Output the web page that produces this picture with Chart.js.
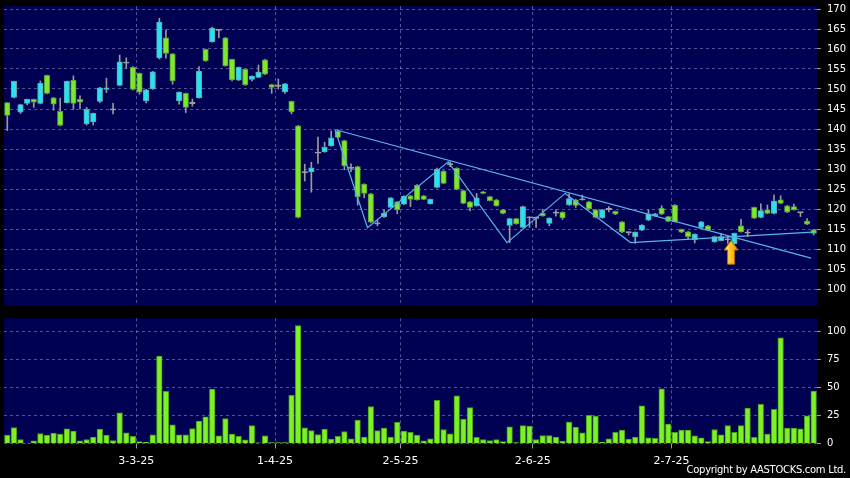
<!DOCTYPE html>
<html>
<head>
<meta charset="utf-8">
<script src="https://cdn.jsdelivr.net/npm/chart.js@4.4.1/dist/chart.umd.min.js"></script>
<style>
  html, body { margin: 0; padding: 0; background: #000; }
  #wrap { position: relative; width: 850px; height: 478px; background: #000; overflow: hidden; }
  #priceBox { position: absolute; left: 0; top: 0; width: 850px; height: 310px; }
  #volBox { position: absolute; left: 0; top: 310px; width: 850px; height: 168px; }
  #copy { position: absolute; right: 4px; top: 464px; font: 10px 'DejaVu Sans', sans-serif; color: #fff; letter-spacing: -0.3px; white-space: nowrap; }
</style>
</head>
<body>
<div id="wrap">
  <div id="priceBox"><canvas id="priceChart" width="850" height="310"></canvas></div>
  <div id="volBox"><canvas id="volChart" width="850" height="168"></canvas></div>
  <div id="copy">Copyright by AASTOCKS.com Ltd.</div>
</div>
<script>
// daily bars, 3 Feb 2025 .. 31 Jul 2025 (index 0..122)
const openP = [146.6,147.9,144.2,146.4,147.4,146.4,153.4,147.8,144.4,146.6,152.2,147.4,141.3,141.8,146.9,149.9,144.9,150.9,156.6,155.4,
  153.9,147.0,150.0,157.8,162.8,158.8,147.0,148.9,146.5,147.8,159.9,161.8,164.8,162.8,157.4,152.2,154.9,152.4,152.9,157.3,
  151.1,150.8,149.3,146.9,140.8,129.1,129.3,134.1,134.3,135.8,139.5,137.1,130.3,130.6,126.2,123.8,116.4,118.0,120.4,121.8,
  121.2,123.3,126.0,123.3,121.3,125.4,129.5,131.2,130.2,124.6,121.8,120.8,124.3,123.1,122.3,119.8,115.9,117.6,115.4,117.9,
  117.8,118.9,116.4,119.1,119.2,121.0,122.3,122.4,121.8,119.8,117.8,120.0,119.4,116.8,114.2,113.1,114.7,117.2,118.3,120.2,
  118.1,121.0,114.9,114.3,112.3,115.4,115.8,111.8,112.1,112.4,111.3,115.8,114.1,120.4,117.9,119.8,118.9,122.3,120.8,120.6,
  119.2,117.0,114.8];
const closeP = [143.4,151.9,146.1,147.4,146.7,151.4,148.9,146.2,140.9,151.9,146.4,146.7,144.9,143.9,150.3,150.3,144.9,156.8,156.6,149.9,
  149.2,149.8,154.3,166.7,158.9,152.0,149.2,145.4,146.5,154.5,157.0,165.2,164.8,155.8,152.3,155.4,151.0,153.2,154.2,153.7,
  150.4,150.8,151.3,144.3,117.9,129.3,130.3,134.1,135.4,137.8,137.9,130.8,130.3,123.0,123.9,116.7,116.4,118.9,122.8,119.8,
  123.2,122.4,122.3,122.4,122.4,130.0,126.4,131.2,124.9,121.4,120.4,122.8,123.9,122.1,120.8,118.9,117.6,116.3,120.6,117.9,
  117.8,118.3,117.7,119.1,117.8,122.6,120.9,122.4,120.0,117.9,119.8,120.0,118.7,114.2,114.2,114.2,116.0,118.8,118.8,118.7,
  116.9,116.8,114.2,113.1,113.7,116.8,114.7,113.1,113.1,112.4,113.9,114.3,114.1,117.7,119.6,118.9,122.0,121.4,119.2,119.8,
  119.2,116.2,113.9];
const highP = [146.6,152.0,146.2,147.5,147.5,152.0,153.5,147.9,147.7,152.0,153.3,148.3,145.4,144.0,150.4,152.7,146.4,158.5,157.8,155.6,
  154.0,149.9,154.4,167.7,164.8,158.9,149.3,149.0,147.5,155.6,160.0,165.5,164.9,162.9,157.5,155.5,155.0,153.3,156.0,157.4,
  151.2,152.5,151.4,147.0,140.9,131.2,131.7,138.0,136.7,139.5,139.8,137.2,131.3,130.7,126.3,123.9,117.2,119.8,122.9,121.9,
  123.3,123.4,126.1,123.4,122.5,130.2,129.6,131.8,130.3,124.7,121.9,123.9,124.4,123.2,122.4,119.9,117.7,117.7,120.7,118.1,
  118.0,119.9,117.8,119.8,119.3,123.8,122.4,123.5,121.9,119.9,119.9,120.6,119.5,116.9,114.3,114.3,116.1,119.8,118.9,120.8,
  118.2,121.1,115.0,114.4,113.8,116.9,115.9,113.2,113.9,113.1,114.0,117.4,114.8,120.5,121.3,121.0,123.5,123.3,120.9,121.2,
  119.2,117.6,114.9];
const lowP = [139.6,147.8,143.9,146.0,145.4,146.3,148.8,144.7,140.8,146.5,144.9,145.0,141.0,141.0,146.6,149.1,143.8,150.8,155.1,149.8,
  148.7,146.5,149.9,157.5,157.7,151.2,146.2,144.1,145.7,147.7,156.9,161.7,162.8,155.7,152.0,152.1,150.9,152.0,152.8,153.6,
  148.9,150.0,148.9,143.8,117.8,127.0,124.2,131.4,134.2,135.7,137.8,129.8,129.3,121.0,122.8,116.5,115.8,117.9,120.3,118.8,
  121.1,120.6,122.2,122.3,121.2,125.3,126.3,130.6,124.8,121.3,119.5,120.7,123.8,122.0,120.7,118.8,111.6,116.2,115.3,115.4,
  115.4,118.2,115.8,118.2,117.4,120.9,120.4,122.2,119.9,117.8,117.7,119.3,118.6,114.1,113.5,111.4,114.6,117.1,118.2,118.6,
  116.8,116.7,114.1,112.6,111.5,115.3,114.6,111.7,112.0,111.4,111.2,114.2,113.1,117.6,117.8,118.8,118.8,121.3,119.1,119.7,
  118.1,116.1,113.5];
const volume = [7.4,14.3,3.6,0.3,2.4,8.9,7.4,9.2,8.3,13,11,2.4,3.6,5.7,12.8,7.4,2.7,27.4,9.5,6.5,
  1.8,1.2,7.7,78,46.4,16.7,7.7,7.7,13.4,20,23.8,48.5,6.8,22.3,8.3,6.3,3.3,16,0.6,6.8,
  0.9,0.9,0.9,42.9,105,14,11.6,8,12.8,3.9,6.5,10.7,4.2,20.8,5.7,33,11.6,13.7,5.7,18.8,
  11,10,7.4,2.4,4.2,38.4,12.5,8.6,42.6,21.7,32,5.4,3.6,2.7,3.6,1.8,14.9,0.9,16,15.5,
  3.6,7.1,7.1,5.7,2.1,19,14.6,9.5,25,24.4,1.2,4.2,10,11.9,3.9,5.7,33.6,5,4.5,48.8,
  17.3,10,11.9,11.9,6.8,5,1.8,12.5,7.7,16,10,16,31.5,5.4,35,8.3,30.4,94.3,13.7,13.7,
  13,24.7,46.7];

// month-start grid positions and their labels
const tickAt = [19.5, 40.5, 59.5, 79.5, 100.5];
const tickText = ['3-3-25', '1-4-25', '2-5-25', '2-6-25', '2-7-25'];
const priceTicks = [100,105,110,115,120,125,130,135,140,145,150,155,160,165,170];
const volTicks = [0, 25, 50, 75, 100];

// drawn trend lines (index, price)
const resistLine = [[49.8, 139.75], [121.6, 107.7]];
const zigzagLine = [[49.6, 139.75], [54.5, 115.3], [66.7, 131.8], [75.6, 111.6], [84.4, 123.9], [94.3, 111.6], [122.4, 114.3]];
// marker arrow under the breakout bar
const arrowIdx = 109.5, arrowTip = 112.1, arrowBase = 106.2;

const NAVY = '#000052';
const GRID = 'rgba(150,150,210,0.55)';
const UP = '#27e3f2', DOWN = '#7de82c', FLAT = '#a8a8a8';

const bodies = openP.map((o, i) => {
  let lo = Math.min(o, closeP[i]), hi = Math.max(o, closeP[i]);
  if (hi - lo < 0.3) { const m = (hi + lo) / 2; lo = m - 0.15; hi = m + 0.15; }
  return { x: i, y: [lo, hi] };
});
const bodyCol = openP.map((o, i) => Math.abs(closeP[i] - o) < 0.25 ? FLAT : (closeP[i] > o ? UP : DOWN));
const bodyEdge = bodyCol.map(c => c === UP ? '#5aa7b2' : (c === DOWN ? '#5a9a3a' : '#a8a8a8'));
const wicks = highP.map((h, i) => ({ x: i, y: [lowP[i], h] }));

const plotBg = {
  id: 'plotBg',
  beforeDraw(chart) {
    const { ctx, chartArea: a } = chart;
    ctx.save();
    ctx.fillStyle = NAVY;
    ctx.fillRect(a.left, a.top, a.right - a.left, a.bottom - a.top);
    ctx.restore();
  }
};

const arrowPlugin = {
  id: 'arrowMark',
  afterDatasetsDraw(chart) {
    const { ctx, scales } = chart;
    const x = scales.x.getPixelForValue(arrowIdx);
    const yt = scales.y.getPixelForValue(arrowTip);
    const yb = scales.y.getPixelForValue(arrowBase);
    const head = (yb - yt) * 0.4;
    ctx.save();
    const g = ctx.createLinearGradient(x - 7, 0, x + 7, 0);
    g.addColorStop(0, '#ffe98a');
    g.addColorStop(0.5, '#ffc21a');
    g.addColorStop(1, '#e89400');
    ctx.fillStyle = g;
    ctx.strokeStyle = '#b86a00';
    ctx.lineWidth = 1;
    ctx.beginPath();
    ctx.moveTo(x, yt);
    ctx.lineTo(x + 7, yt + head);
    ctx.lineTo(x + 3.5, yt + head);
    ctx.lineTo(x + 3.5, yb);
    ctx.lineTo(x - 3.5, yb);
    ctx.lineTo(x - 3.5, yt + head);
    ctx.lineTo(x - 7, yt + head);
    ctx.closePath();
    ctx.fill();
    ctx.stroke();
    ctx.restore();
  }
};

function xAxis(showLabels) {
  return {
    type: 'linear', min: -0.5, max: 122.5, offset: false,
    afterBuildTicks: a => { a.ticks = tickAt.map(v => ({ value: v })); },
    afterFit: a => { a.height = showLabels ? 34.5 : 0; a.paddingLeft = 0; a.paddingRight = 0; },
    grid: { offset: false, color: GRID, drawTicks: showLabels, tickLength: 5, tickColor: '#9a9a9a', tickBorderDash: [] },
    border: { display: false, dash: [3, 3] },
    ticks: {
      display: showLabels, color: '#fff', padding: 6, maxRotation: 0,
      font: { family: 'DejaVu Sans', size: 11 },
      callback: v => tickText[tickAt.indexOf(v)]
    }
  };
}

function yAxis(min, max, list) {
  return {
    position: 'right', min: min, max: max,
    afterBuildTicks: a => { a.ticks = list.map(v => ({ value: v })); },
    afterFit: a => { a.width = 33; a.paddingTop = 0; a.paddingBottom = 0; },
    grid: { color: GRID, tickLength: 4, tickColor: '#9a9a9a', tickBorderDash: [] },
    border: { display: false, dash: [3, 3] },
    ticks: { color: '#fff', padding: 6, font: { family: 'DejaVu Sans', size: 10 } }
  };
}

const common = {
  responsive: false,
  animation: false,
  events: [],
  plugins: { legend: { display: false }, tooltip: { enabled: false } }
};

const lineSet = pts => ({
  type: 'line',
  data: pts.map(p => ({ x: p[0], y: p[1] })),
  borderColor: '#58b4ee', borderWidth: 1.2, pointRadius: 0, tension: 0, fill: false, order: 1
});

new Chart(document.getElementById('priceChart'), {
  type: 'bar',
  data: {
    datasets: [
      { data: wicks, backgroundColor: '#9a9a9a', barThickness: 1, grouped: false, order: 3 },
      { data: bodies, backgroundColor: bodyCol, borderColor: bodyEdge, borderWidth: 1, borderSkipped: false,
        barThickness: 5.5, grouped: false, order: 2 },
      lineSet(resistLine),
      lineSet(zigzagLine)
    ]
  },
  options: {
    ...common,
    layout: { padding: { left: 4, top: 6, right: 0, bottom: 4 } },
    scales: { x: xAxis(false), y: yAxis(95.75, 170.75, priceTicks) }
  },
  plugins: [plotBg, arrowPlugin]
});

new Chart(document.getElementById('volChart'), {
  type: 'bar',
  data: {
    datasets: [{
      data: volume.map((v, i) => ({ x: i, y: v })),
      backgroundColor: '#7cf226', borderColor: '#4a9a18', borderWidth: 1, barThickness: 5.6
    }]
  },
  options: {
    ...common,
    layout: { padding: { left: 4, top: 8.3, right: 0, bottom: 0 } },
    scales: { x: xAxis(true), y: yAxis(0, 111.6, volTicks) }
  },
  plugins: [plotBg]
});
</script>
</body>
</html>
